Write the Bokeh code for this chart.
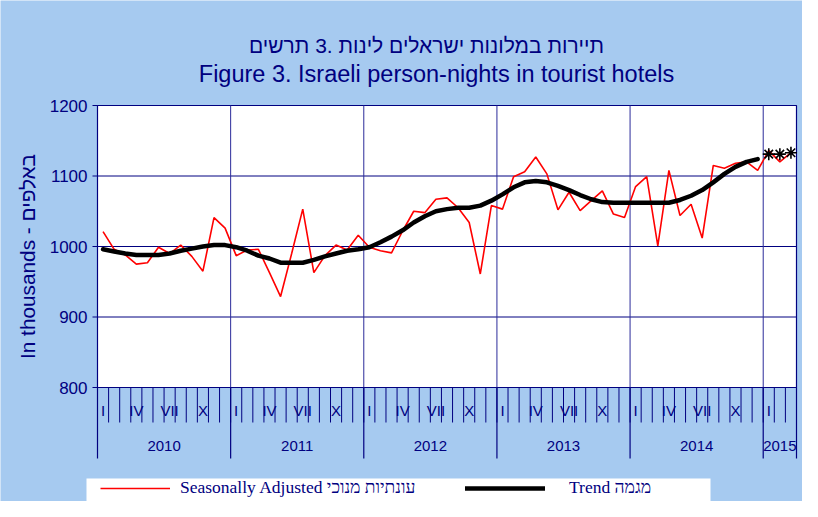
import math
from bokeh.plotting import figure
from bokeh.models import Range1d, Label, Legend, LegendItem
from bokeh.core.properties import value
from bokeh.embed import file_html
from bokeh.resources import INLINE

# ---------------- data ----------------
years = ["2010", "2011", "2012", "2013", "2014", "2015"]
months_per_year = [12, 12, 12, 12, 12, 3]
month_labels = ["I", "", "", "IV", "", "", "VII", "", "", "X", "", ""]

seasonally_adjusted = [
    1021, 996, 988, 975, 977, 999, 990, 1002, 986, 965, 1041, 1026,      # 2010
    987, 995, 996, 963, 929, 990, 1053, 963, 987, 1002, 995, 1016,       # 2011
    999, 994, 991, 1022, 1050, 1048, 1067, 1069, 1055, 1034, 961, 1058,  # 2012
    1053, 1099, 1106, 1127, 1103, 1052, 1077, 1051, 1065, 1079, 1046, 1041,  # 2013
    1085, 1099, 1001, 1108, 1044, 1060, 1012, 1115, 1111, 1118, 1120, 1108,  # 2014
    1136, 1120, 1133,                                                     # 2015
]
trend = [
    996, 993, 990, 988, 988, 988, 990, 994, 997, 1000, 1002, 1002,       # 2010
    999, 994, 987, 983, 977, 977, 977, 981, 986, 990, 994, 996,          # 2011
    999, 1006, 1014, 1023, 1034, 1043, 1050, 1053, 1055, 1055, 1058, 1065,  # 2012
    1074, 1084, 1091, 1093, 1091, 1086, 1080, 1073, 1067, 1063, 1062, 1062,  # 2013
    1062, 1062, 1062, 1062, 1066, 1072, 1080, 1091, 1103, 1113, 1120, 1124,  # 2014
]
trend_2015 = [1131, 1131, 1133]
y_ticks = [800, 900, 1000, 1100, 1200]

# Hebrew words are given in the order that the original shows them from left to right
title_he = "תיירות במלונות ישראלים לינות .3 תרשים"
title_en = "Figure 3. Israeli person-nights in tourist hotels"
y_title = "In thousands - באלפים"
label_sa = "Seasonally Adjusted עונתיות מנוכי"
label_trend = "Trend מגמה"

# ---------------- geometry ----------------
W, H = 802, 501
BG = "#A6CAF0"
NAVY = "#000080"
PL, PR, PT, PB = 97, 796, 105, 387     # plot box in picture pixels
N = sum(months_per_year)
YMIN, YMAX = 800, 1200
pxm = (PR - PL) / N
pxv = (PB - PT) / (YMAX - YMIN)


def rx(px):
    return (px - PL) / pxm


def ry(py):
    return YMAX - (py - PT) / pxv


p = figure(width=W, height=H,
           x_range=Range1d(rx(0), rx(W)), y_range=Range1d(ry(H), ry(0)),
           x_axis_location=None, y_axis_location=None,
           toolbar_location=None, output_backend="svg",
           min_border=0, min_border_left=0, min_border_right=0,
           min_border_top=0, min_border_bottom=0,
           background_fill_color=BG, border_fill_color=BG,
           outline_line_color=None)
p.grid.visible = False

# plot area
p.quad(left=[0], right=[N], bottom=[YMIN], top=[YMAX],
       fill_color="white", line_color=NAVY, line_width=1.2)

# horizontal grid
inner = [t for t in y_ticks if YMIN < t < YMAX]
p.segment(x0=[0] * len(inner), x1=[N] * len(inner), y0=inner, y1=inner,
          line_color=NAVY, line_width=1)

# year boundaries
bounds = [0]
for m in months_per_year:
    bounds.append(bounds[-1] + m)
mid_bounds = bounds[1:-1]
p.segment(x0=mid_bounds, x1=mid_bounds, y0=[YMIN] * len(mid_bounds),
          y1=[YMAX] * len(mid_bounds), line_color="#2B2B9A", line_width=1)

# month ticks below the plot
mb = list(range(N + 1))
p.segment(x0=mb, x1=mb, y0=[YMIN] * len(mb), y1=[ry(422)] * len(mb),
          line_color=NAVY, line_width=1)
p.segment(x0=bounds, x1=bounds, y0=[YMIN] * len(bounds), y1=[ry(458)] * len(bounds),
          line_color=NAVY, line_width=1.2)

# month labels
mx, mt = [], []
i = 0
for m in months_per_year:
    for k in range(m):
        if month_labels[k]:
            mx.append(i + 0.5)
            mt.append(month_labels[k])
        i += 1
p.text(x=mx, y=[ry(410)] * len(mx), text=mt, text_font=value("Liberation Sans"),
       text_font_size="15px", text_color=NAVY, text_align="center",
       text_baseline="middle")

# year labels
yx = [(bounds[j] + bounds[j + 1]) / 2 for j in range(len(years))]
p.text(x=yx, y=[ry(445)] * len(yx), text=years, text_font=value("Liberation Sans"),
       text_font_size="15px", text_color=NAVY, text_align="center",
       text_baseline="middle")

# y ticks and labels
p.segment(x0=[rx(92)] * len(y_ticks), x1=[0] * len(y_ticks), y0=y_ticks, y1=y_ticks,
          line_color=NAVY, line_width=1)
p.text(x=[rx(87)] * len(y_ticks), y=y_ticks, text=[str(t) for t in y_ticks],
       text_font=value("Liberation Sans"), text_font_size="17px", text_color=NAVY,
       text_align="right", text_baseline="middle")

# titles
for txt, cx, py, fs in [(title_he, 426, 45, "21px"), (title_en, 436, 73, "23.5px")]:
    p.add_layout(Label(x=rx(cx), y=ry(py), text=txt, text_font="Liberation Sans",
                       text_font_size=fs, text_color=NAVY,
                       text_align="center", text_baseline="middle"))
p.add_layout(Label(x=rx(27), y=ry(256), text=y_title, angle=math.pi / 2,
                   text_font="Liberation Sans", text_font_size="20.8px",
                   text_color=NAVY, text_align="center", text_baseline="middle"))

# series
xc = [i + 0.5 for i in range(N)]
r_sa = p.line(x=xc[:len(seasonally_adjusted)], y=seasonally_adjusted,
              line_color="#FF0000", line_width=1.6)
r_tr = p.line(x=xc[:len(trend)], y=trend, line_color="black", line_width=4.5,
              line_join="round", line_cap="round")
p.scatter(x=xc[len(trend):len(trend) + len(trend_2015)], y=trend_2015,
          marker="asterisk", size=12, line_color="black", line_width=1.6)

# legend box
p.quad(left=[rx(86)], right=[rx(710)], top=[ry(478)], bottom=[ry(560)],
       fill_color="white", line_color=None)

LEG_CY = 490
for item_label, rend, gx, gw, stand in [(label_sa, r_sa, 100, 70, 10),
                                         (label_trend, r_tr, 465, 80, 24)]:
    leg = Legend(items=[LegendItem(label=item_label, renderers=[rend])],
                 location=(gx, H - LEG_CY - 8),
                 orientation="horizontal", glyph_width=gw, glyph_height=16,
                 label_height=16, label_standoff=stand, padding=0, margin=0,
                 spacing=0, border_line_color=None, background_fill_alpha=0,
                 label_text_font="Liberation Serif", label_text_font_size="17.5px",
                 label_text_color=NAVY, label_text_baseline="middle")
    p.add_layout(leg)

open("out.html", "w").write(file_html(p, INLINE))
